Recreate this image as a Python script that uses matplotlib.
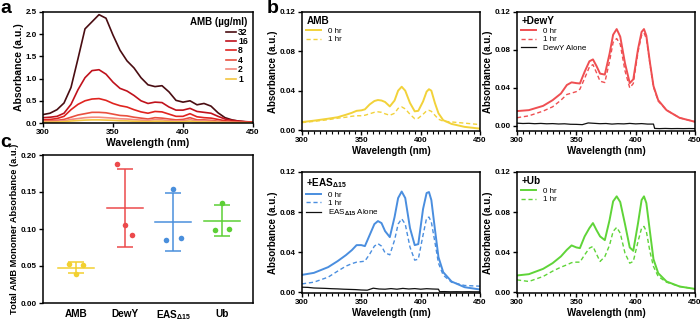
import matplotlib
matplotlib.use("Agg")
import matplotlib.pyplot as plt
import numpy as np
from matplotlib.ticker import MultipleLocator, FormatStrFormatter

plt.rcParams["font.family"] = ["Liberation Sans", "DejaVu Sans"]
plt.rcParams["font.weight"] = "bold"
plt.rcParams["mathtext.fontset"] = "custom"
plt.rcParams["mathtext.rm"] = "Liberation Sans"
plt.rcParams["mathtext.bf"] = "Liberation Sans:bold"
plt.rcParams["axes.linewidth"] = 1.1

# ---- panel a: AMB concentration series ----
wl_a = list(range(300, 451, 5))
conc_labels = ["32", "16", "8", "4", "2", "1"]
amb_32 = [0.19, 0.22, 0.30, 0.45, 0.80, 1.45, 2.12, 2.28, 2.44, 2.36, 1.98, 1.64, 1.40, 1.24, 1.02, 0.86,
          0.82, 0.84, 0.70, 0.51, 0.47, 0.50, 0.41, 0.44, 0.38, 0.23, 0.12, 0.07, 0.04, 0.025, 0.015]
amb_16 = [0.12, 0.13, 0.15, 0.22, 0.42, 0.75, 1.02, 1.18, 1.20, 1.10, 0.92, 0.78, 0.72, 0.62, 0.50, 0.44,
          0.47, 0.46, 0.36, 0.29, 0.29, 0.33, 0.26, 0.24, 0.22, 0.15, 0.09, 0.06, 0.045, 0.03, 0.02]
amb_8 = [0.07, 0.08, 0.10, 0.15, 0.30, 0.42, 0.50, 0.54, 0.55, 0.51, 0.44, 0.39, 0.36, 0.30, 0.25, 0.22,
         0.26, 0.25, 0.20, 0.15, 0.15, 0.21, 0.14, 0.12, 0.11, 0.08, 0.05, 0.035, 0.025, 0.02, 0.015]
amb_4 = [0.045, 0.05, 0.06, 0.08, 0.13, 0.18, 0.21, 0.24, 0.24, 0.23, 0.20, 0.17, 0.16, 0.13, 0.11, 0.09,
         0.12, 0.11, 0.09, 0.07, 0.08, 0.12, 0.07, 0.07, 0.06, 0.04, 0.03, 0.02, 0.015, 0.012, 0.01]
amb_2 = [0.03, 0.035, 0.04, 0.05, 0.08, 0.10, 0.12, 0.13, 0.13, 0.12, 0.11, 0.095, 0.09, 0.075, 0.065, 0.06,
         0.075, 0.07, 0.055, 0.045, 0.05, 0.075, 0.045, 0.045, 0.04, 0.025, 0.02, 0.015, 0.01, 0.008, 0.006]
amb_1 = [0.015, 0.018, 0.02, 0.03, 0.045, 0.055, 0.065, 0.07, 0.07, 0.065, 0.06, 0.05, 0.048, 0.04, 0.035, 0.03,
         0.04, 0.038, 0.03, 0.024, 0.026, 0.04, 0.024, 0.024, 0.02, 0.014, 0.01, 0.008, 0.006, 0.005, 0.004]
conc_colors = ["#4a0d12", "#c0121c", "#e0241f", "#e9503f", "#f48a7e", "#f3c640"]

# ---- panel b: spectra over time ----
wl_b = [300, 310, 322, 330, 337, 342, 346, 350, 353, 357, 361, 364, 367, 370, 374, 378, 381, 384, 387, 391,
        395, 398, 402, 405, 407, 409, 412, 415, 419, 426, 437, 450]
amb_0hr = [0.0081, 0.0095, 0.0115, 0.013, 0.0155, 0.0175, 0.0195, 0.020, 0.021, 0.026, 0.0295, 0.0305, 0.030,
           0.0285, 0.024, 0.030, 0.040, 0.044, 0.040, 0.0275, 0.019, 0.0195, 0.029, 0.039, 0.0415, 0.040,
           0.0275, 0.017, 0.010, 0.0062, 0.0032, 0.0014]
amb_1hr = [0.0075, 0.0088, 0.0105, 0.012, 0.013, 0.014, 0.0145, 0.0145, 0.015, 0.0165, 0.018, 0.0185, 0.018,
           0.0165, 0.015, 0.017, 0.022, 0.0235, 0.0215, 0.016, 0.0115, 0.012, 0.016, 0.0195, 0.020, 0.019,
           0.015, 0.011, 0.009, 0.0082, 0.007, 0.0055]
dewy_0hr = [0.0155, 0.0165, 0.021, 0.027, 0.034, 0.043, 0.0458, 0.045, 0.0446, 0.057, 0.068, 0.070, 0.063,
            0.055, 0.054, 0.076, 0.096, 0.102, 0.094, 0.066, 0.045, 0.049, 0.081, 0.099, 0.102, 0.095,
            0.067, 0.042, 0.027, 0.0165, 0.0084, 0.0042]
dewy_1hr = [0.0085, 0.0105, 0.0155, 0.020, 0.027, 0.033, 0.0345, 0.036, 0.0386, 0.050, 0.062, 0.0645, 0.056,
            0.047, 0.0456, 0.068, 0.088, 0.092, 0.086, 0.058, 0.040, 0.0446, 0.078, 0.0955, 0.098, 0.092,
            0.0656, 0.041, 0.026, 0.0165, 0.0084, 0.0042]
eas_0hr = [0.0173, 0.0193, 0.025, 0.031, 0.037, 0.042, 0.047, 0.047, 0.046, 0.057, 0.068, 0.071, 0.069,
           0.061, 0.055, 0.075, 0.094, 0.1005, 0.094, 0.064, 0.047, 0.048, 0.083, 0.099, 0.100, 0.092,
           0.063, 0.035, 0.020, 0.0107, 0.005, 0.0027]
eas_1hr = [0.0083, 0.010, 0.015, 0.021, 0.026, 0.0285, 0.030, 0.0305, 0.031, 0.038, 0.046, 0.0485, 0.046,
           0.0393, 0.0373, 0.052, 0.068, 0.0733, 0.068, 0.045, 0.032, 0.033, 0.057, 0.074, 0.075, 0.070,
           0.050, 0.029, 0.017, 0.010, 0.0067, 0.006]
ub_0hr = [0.0167, 0.018, 0.0233, 0.029, 0.0357, 0.0423, 0.0467, 0.0447, 0.044, 0.0557, 0.064, 0.069, 0.062,
          0.0557, 0.052, 0.072, 0.0907, 0.0957, 0.090, 0.068, 0.0447, 0.0413, 0.069, 0.092, 0.0957, 0.089,
          0.0607, 0.033, 0.019, 0.0107, 0.0057, 0.0033]
ub_1hr = [0.0123, 0.0107, 0.0157, 0.021, 0.025, 0.0273, 0.0295, 0.030, 0.030, 0.0373, 0.044, 0.0457, 0.038,
          0.0307, 0.0355, 0.047, 0.0607, 0.0647, 0.059, 0.039, 0.029, 0.0307, 0.0507, 0.064, 0.0657, 0.0607,
          0.0407, 0.0257, 0.0157, 0.010, 0.0057, 0.0033]

wl_alone = [300, 305, 310, 315, 320, 325, 330, 335, 340, 345, 350, 355, 360, 365, 370, 375, 380, 385, 390,
            395, 400, 405, 410, 415, 416, 420, 425, 430, 435, 440, 445, 450]
dewy_alone = [0.0028, 0.0024, 0.0026, 0.0022, 0.0025, 0.0021, 0.0023, 0.0019, 0.0021, 0.0016, 0.0015, 0.0012,
              0.0030, 0.0026, 0.0022, 0.0024, 0.0018, 0.0022, 0.0020, 0.0025, 0.0020, 0.0023, 0.0018, 0.0018,
              -0.0028, -0.0030, -0.0028, -0.0030, -0.0029, -0.0030, -0.0029, -0.0030]
eas_alone = [0.0050, 0.0048, 0.0042, 0.0040, 0.0038, 0.0035, 0.0033, 0.0030, 0.0028, 0.0026, 0.0022, 0.0020,
             0.0040, 0.0032, 0.0030, 0.0036, 0.0030, 0.0038, 0.0032, 0.0036, 0.0030, 0.0035, 0.0032, 0.0030,
             0.0005, 0.0006, 0.0004, 0.0005, 0.0004, 0.0005, 0.0004, 0.0004]

# ---- panel c: total monomer absorbance ----
groups = ["AMB", "DewY", r"EAS$_{\mathbf{Δ15}}$", "Ub"]
group_vals = [[0.053, 0.0396, 0.051], [0.188, 0.105, 0.0917], [0.0854, 0.154, 0.0876], [0.098, 0.135, 0.1002]]
group_offsets = [-0.15, 0.0, 0.15]
group_colors = ["#f2d030", "#ec4a4c", "#4a8fdc", "#5ccf35"]

fig = plt.figure(figsize=(7, 3.22), dpi=100)


def style(ax, xlabel, ylabel, fs=7, yfs=None):
    ax.set_xlabel(xlabel, fontsize=fs, fontweight="bold", labelpad=1)
    ax.set_ylabel(ylabel, fontsize=yfs or fs, fontweight="bold", labelpad=1)
    ax.tick_params(axis="both", which="major", direction="out", length=3, width=1, labelsize=5.8, pad=1.5)
    ax.tick_params(axis="both", which="minor", direction="out", length=2, width=0.8)
    for lab in ax.get_xticklabels() + ax.get_yticklabels():
        lab.set_fontweight("bold")


# panel a
ax_a = fig.add_axes([43 / 700, 1 - 123 / 322, 210 / 700, 111 / 322])
for vals, lab, col in zip([amb_32, amb_16, amb_8, amb_4, amb_2, amb_1], conc_labels, conc_colors):
    ax_a.plot(wl_a, vals, color=col, lw=1.2, label=lab)
ax_a.set_xlim(300, 450)
ax_a.set_ylim(0, 2.5)
ax_a.xaxis.set_major_locator(MultipleLocator(50))
ax_a.yaxis.set_major_locator(MultipleLocator(0.5))
ax_a.yaxis.set_major_formatter(FormatStrFormatter("%.1f"))
style(ax_a, "Wavelength (nm)", "Absorbance (a.u.)", fs=7.5)
leg = ax_a.legend(title="AMB (µg/ml)", loc="upper right", frameon=False, fontsize=6.2, handlelength=1.1,
                  handletextpad=0.3, labelspacing=0.05, borderaxespad=0.2, alignment="right")
leg.get_title().set_fontweight("bold")
leg.get_title().set_fontsize(7)

# panel b
b_panels = [
    ([302, 12, 178, 119], "AMB", amb_0hr, amb_1hr, None, None, "#f2d23a", (-0.001, 0.12)),
    ([517, 12, 178, 119], "+DewY", dewy_0hr, dewy_1hr, dewy_alone, "DewY Alone", "#ef4f52", (-0.0055, 0.12)),
    ([302, 172, 178, 121], r"+EAS$_{\mathbf{Δ15}}$", eas_0hr, eas_1hr, eas_alone, r"EAS$_{Δ15}$ Alone",
     "#4a8edf", (-0.0008, 0.12)),
    ([517, 172, 178, 121], "+Ub", ub_0hr, ub_1hr, None, None, "#5fd438", (-0.0008, 0.12)),
]
for (px, py, pw, ph), title, s0, s1, alone, alone_lab, col, ylim in b_panels:
    ax = fig.add_axes([px / 700, 1 - (py + ph) / 322, pw / 700, ph / 322])
    ax.plot(wl_b, s0, color=col, lw=1.4, label="0 hr")
    ax.plot(wl_b, s1, color=col, lw=1.0, ls=(0, (3, 2)), label="1 hr")
    if alone is not None:
        ax.plot(wl_alone, alone, color="#111111", lw=0.9, label=alone_lab)
    ax.set_xlim(300, 450)
    ax.set_ylim(*ylim)
    ax.xaxis.set_major_locator(MultipleLocator(50))
    ax.xaxis.set_minor_locator(MultipleLocator(5))
    ax.set_yticks([0, 0.04, 0.08, 0.12])
    ax.yaxis.set_major_formatter(FormatStrFormatter("%.2f"))
    style(ax, "Wavelength (nm)", "Absorbance (a.u.)")
    lg = ax.legend(title=title, loc="upper left", frameon=False, fontsize=5.8, handlelength=1.8,
                   handletextpad=0.9, labelspacing=0.1, borderaxespad=0.15, alignment="left")
    lg.get_title().set_fontweight("bold")
    lg.get_title().set_fontsize(7.2)
    for t in lg.get_texts():
        t.set_fontweight("normal")

# panel c
ax_c = fig.add_axes([43 / 700, 1 - 303 / 322, 210 / 700, 148 / 322])
for i, (vals, col) in enumerate(zip(group_vals, group_colors)):
    m = np.mean(vals)
    sd = np.std(vals, ddof=1)
    ax_c.scatter([i + o for o in group_offsets], vals, s=16, color=col, zorder=3, linewidths=0)
    ax_c.plot([i - 0.37, i + 0.37], [m, m], color=col, lw=1.1)
    ax_c.errorbar(i, m, yerr=sd, color=col, capsize=5.5, elinewidth=1.1, capthick=1.1, fmt="none")
ax_c.set_xlim(-0.68, 3.64)
ax_c.set_ylim(0, 0.2)
ax_c.set_xticks(range(len(groups)))
ax_c.set_xticklabels(groups)
ax_c.yaxis.set_major_locator(MultipleLocator(0.05))
ax_c.yaxis.set_major_formatter(FormatStrFormatter("%.2f"))
style(ax_c, "", "Total AMB Monomer Absorbance (a.u.)", yfs=6.7)
ax_c.tick_params(axis="x", length=0, labelsize=7.2, pad=4)

fig.text(0.0, 1.0, "a", fontsize=14, fontweight="bold", va="top", ha="left")
fig.text(267 / 700, 1.0, "b", fontsize=14, fontweight="bold", va="top", ha="left")
fig.text(0.0, 1 - 134 / 322, "c", fontsize=14, fontweight="bold", va="top", ha="left")

fig.savefig("out.png", dpi=100)
